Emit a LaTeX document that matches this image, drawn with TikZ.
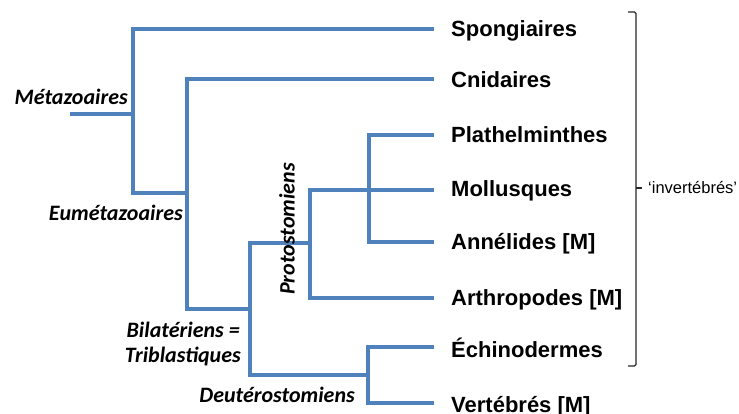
\documentclass[tikz,border=0pt]{standalone}
\usepackage{fontspec}
\setmainfont{Liberation Sans}
\newfontfamily\cladefont{Carlito}
\definecolor{treeblue}{RGB}{79,129,189}
\begin{document}
\begin{tikzpicture}[x=1pt,y=-1pt,
  br/.style={draw=treeblue, line width=3.2pt, line cap=rect},
  taxon/.style={anchor=base west, inner sep=0pt, font=\fontsize{22}{24}\selectfont\bfseries},
  clade/.style={inner sep=0pt, font=\cladefont\fontsize{22}{24}\selectfont\bfseries\itshape},
  brack/.style={draw=black!85, line width=1.1pt}]
\useasboundingbox (0,0) rectangle (739,414);
% leaf ends
\coordinate (eSp) at (432,29);
\coordinate (eCn) at (432,79);
\coordinate (ePl) at (432,135);
\coordinate (eMo) at (432,190);
\coordinate (eAn) at (432,242);
\coordinate (eAr) at (432,298);
\coordinate (eEc) at (432,347);
\coordinate (eVe) at (432,403);
% internal points
\coordinate (root) at (72,114);
\coordinate (rootJ) at (133,114);
\coordinate (nA) at (133,193);
\coordinate (nAj) at (187,193);
\coordinate (nB) at (187,309);
\coordinate (nBj) at (250,309);
\coordinate (nCt) at (250,243);
\coordinate (nCb) at (250,375);
\coordinate (nPt) at (310,190);
\coordinate (nPm) at (310,243);
\coordinate (nPb) at (310,298);
\coordinate (nQt) at (369,135);
\coordinate (nQb) at (369,242);
\coordinate (nDm) at (368,375);
\coordinate (nDb) at (368,403);
% tree
\draw[br] (root) -- (rootJ);
\draw[br] (eSp) -| (nA) -- (nAj);
\draw[br] (eCn) -| (nB) -- (nBj);
\draw[br] (nCt) -- (nCb);
\draw[br] (nCt) -- (nPm);
\draw[br] (nPt) |- (eAr);
\draw[br] (nPt) -- (eMo);
\draw[br] (ePl) -| (nQb) -- (eAn);
\draw[br] (nCb) -- (nDm);
\draw[br] (eEc) -| (nDb) -- (eVe);
% taxa
\node[taxon] (sp) at (451,37) {Spongiaires};
\node[taxon] (cn) at (451,88) {Cnidaires};
\node[taxon] (pl) at (451,143) {Plathelminthes};
\node[taxon] (mo) at (451,197) {Mollusques};
\node[taxon] (an) at (451,250) {Annélides [M]};
\node[taxon] (ar) at (451,305) {Arthropodes [M]};
\node[taxon] (ec) at (451,357) {Échinodermes};
\node[taxon] (ve) at (451,412) {Vertébrés [M]};
% clades
\node[clade, anchor=east] (met) at (128,97) {Métazoaires};
\node[clade, anchor=east] (eum) at (183,213) {Eumétazoaires};
\node[clade, anchor=east] (bil) at (240,330) {Bilatériens =};
\node[clade, anchor=east] (tri) at (241,357) {Triblastiques};
\node[clade, anchor=east] (deu) at (355,395) {Deutérostomiens};
\node[clade, rotate=90] (pro) at (287,229) {Protostomiens};
% bracket
\coordinate (bT) at (628,12);
\coordinate (bB) at (628,366);
\coordinate (bM) at (636,188);
\draw[brack, rounded corners=1.5pt] (bT) -- (636,12) -- (636,366) -- (bB);
\draw[brack] (bM) -- (642,188);
\node[anchor=west, inner sep=0pt, font=\fontsize{16.5}{18}\selectfont] (inv) at (648,188) {‘invertébrés’};
\end{tikzpicture}
\end{document}
